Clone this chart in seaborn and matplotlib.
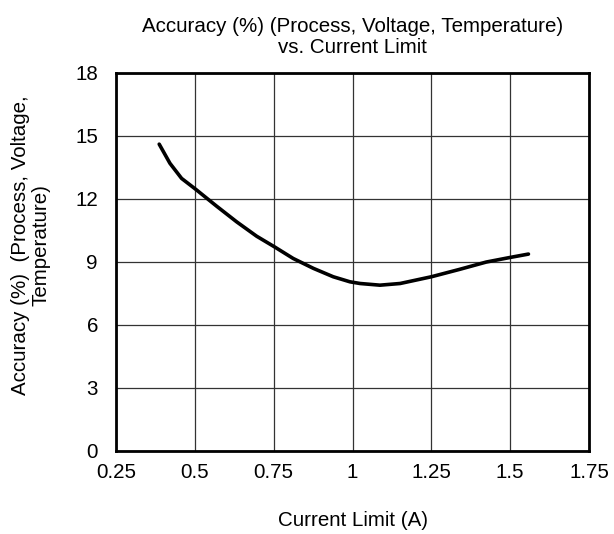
import matplotlib
matplotlib.use("Agg")
import matplotlib.pyplot as plt
import seaborn as sns
import pandas as pd

# Measured accuracy curve
current_limit = [0.387, 0.421, 0.458, 0.503, 0.569, 0.633, 0.696, 0.753, 0.812, 0.876, 0.939,
                 0.992, 1.024, 1.087, 1.151, 1.250, 1.339, 1.424, 1.5, 1.558]
accuracy = [14.60, 13.69, 12.97, 12.45, 11.65, 10.90, 10.22, 9.71, 9.16, 8.69, 8.29,
            8.05, 7.97, 7.89, 7.97, 8.29, 8.64, 8.99, 9.21, 9.37]

x_ticks = [0.25, 0.5, 0.75, 1, 1.25, 1.5, 1.75]
x_tick_labels = ["0.25", "0.5", "0.75", "1", "1.25", "1.5", "1.75"]
y_ticks = [0, 3, 6, 9, 12, 15, 18]

sns.set_theme(style="white")
plt.rcParams["font.family"] = ["Liberation Sans", "DejaVu Sans"]

df = pd.DataFrame({"Current Limit (A)": current_limit, "Accuracy": accuracy})

fig = plt.figure(figsize=(6.14, 5.34), dpi=100)
ax = fig.add_axes([116 / 614, 1 - 451 / 534, (589 - 116) / 614, (451 - 72.7) / 534])

sns.lineplot(data=df, x="Current Limit (A)", y="Accuracy", ax=ax,
             color="black", linewidth=2.6, sort=False)
ax.lines[0].set_solid_joinstyle("round")
ax.lines[0].set_solid_capstyle("round")

ax.set_xlim(0.25, 1.75)
ax.set_ylim(0, 18)
ax.set_xticks(x_ticks)
ax.set_xticklabels(x_tick_labels)
ax.set_yticks(y_ticks)
ax.grid(True, color="#333333", linewidth=0.9)
for s in ax.spines.values():
    s.set_visible(True)
    s.set_color("black")
    s.set_linewidth(2.0)
ax.tick_params(axis="both", which="both", length=0, labelsize=14.8, colors="black")
ax.tick_params(axis="x", pad=9)
ax.tick_params(axis="y", pad=13)

ax.set_xlabel("Current Limit (A)", fontsize=14.8, color="black", va="center")
ax.xaxis.set_label_coords(0.5, -0.185)
ax.set_ylabel("Accuracy (%)  (Process, Voltage,\nTemperature)", fontsize=14.8,
              color="black", linespacing=1.05, va="center")
ax.yaxis.set_label_coords(-0.18, 0.545)
ax.set_title("Accuracy (%) (Process, Voltage, Temperature)\nvs. Current Limit",
             fontsize=14.8, color="black", pad=14, linespacing=1.15)

fig.savefig("out.png", dpi=100)
